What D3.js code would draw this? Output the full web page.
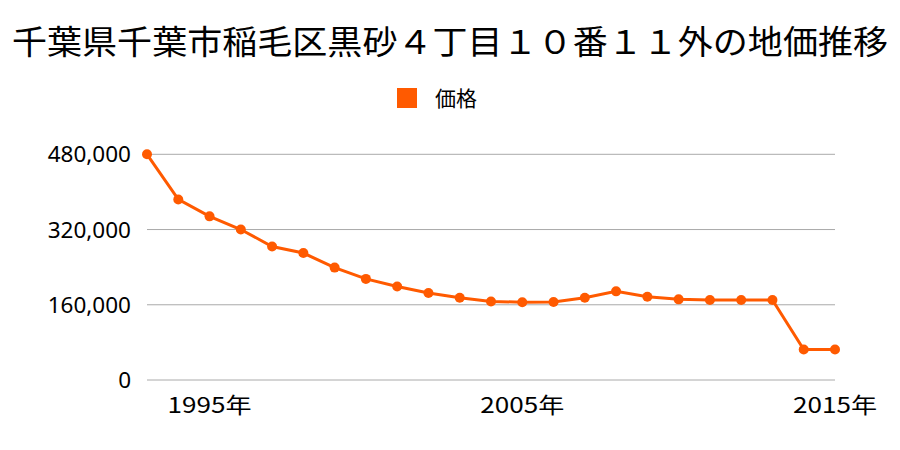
<!DOCTYPE html>
<html>
<head>
<meta charset="utf-8">
<script src="https://cdn.jsdelivr.net/npm/d3@7"></script>
<style>
  body { margin: 0; background: #fff; }
  svg { display: block; font-family: "Noto Sans CJK JP", "Noto Sans", sans-serif; }
</style>
</head>
<body>
<div class="container"></div>
<script>
// data
const years = [1993, 1994, 1995, 1996, 1997, 1998, 1999, 2000, 2001, 2002, 2003, 2004,
  2005, 2006, 2007, 2008, 2009, 2010, 2011, 2012, 2013, 2014, 2015];
const prices = [480000, 384000, 348000, 320000, 284000, 270000, 239000, 215000, 199000, 185000, 175000, 167000,
  165500, 166000, 175000, 188500, 177000, 171500, 170000, 170000, 170000, 65000, 65000];
const yTicks = [0, 160000, 320000, 480000];
const xTicks = [1995, 2005, 2015];
const titleText = "千葉県千葉市稲毛区黒砂４丁目１０番１１外の地価推移";
const seriesName = "価格";

const W = 900, H = 450;
const color = "#ff5a00";

const svg = d3.select("div.container").append("svg")
    .attr("width", W)
    .attr("height", H);

//title
svg.append("text")
    .attr("x", 12)
    .attr("y", 54)
    .attr("font-size", 33)
    .attr("textLength", 876)
    .attr("lengthAdjust", "spacingAndGlyphs")
    .attr("fill", "#000")
    .text(titleText);

//legend
svg.append("rect")
    .attr("x", 397).attr("y", 88)
    .attr("width", 20).attr("height", 20)
    .attr("fill", color);
svg.append("text")
    .attr("x", 435).attr("y", 106)
    .attr("font-size", 21)
    .text(seriesName);

//scales
const x = d3.scaleLinear().domain([1993, 2015]).range([147, 835]);
const y = d3.scaleLinear().domain([0, 480000]).range([380, 154.3]);

//grid + y labels
svg.append("g").selectAll("line")
    .data(yTicks)
    .enter()
    .append("line")
    .attr("x1", 147).attr("x2", 835)
    .attr("y1", d => y(d)).attr("y2", d => y(d))
    .attr("stroke", "#aaa")
    .attr("stroke-width", 1);

svg.append("g").selectAll("text")
    .data(yTicks)
    .enter()
    .append("text")
    .attr("x", 131)
    .attr("y", d => y(d) + 8)
    .attr("text-anchor", "end")
    .attr("font-size", 22.5)
    .attr("font-family", "'Noto Sans', sans-serif")
    .text(d => d3.format(",")(d));

//x labels
svg.append("g").selectAll("text")
    .data(xTicks)
    .enter()
    .append("text")
    .attr("x", d => x(d) - 42)
    .attr("y", 413)
    .attr("font-size", 22)
    .attr("textLength", 84)
    .attr("lengthAdjust", "spacingAndGlyphs")
    .text(d => d + "年");

//line
const pts = years.map((yr, i) => [yr, prices[i]]);
svg.append("path")
    .datum(pts)
    .attr("fill", "none")
    .attr("stroke", color)
    .attr("stroke-width", 3)
    .attr("d", d3.line().x(d => x(d[0])).y(d => y(d[1])));

svg.append("g").selectAll("circle")
    .data(pts)
    .enter()
    .append("circle")
    .attr("cx", d => x(d[0]))
    .attr("cy", d => y(d[1]))
    .attr("r", 5)
    .attr("fill", color);
</script>
</body>
</html>
